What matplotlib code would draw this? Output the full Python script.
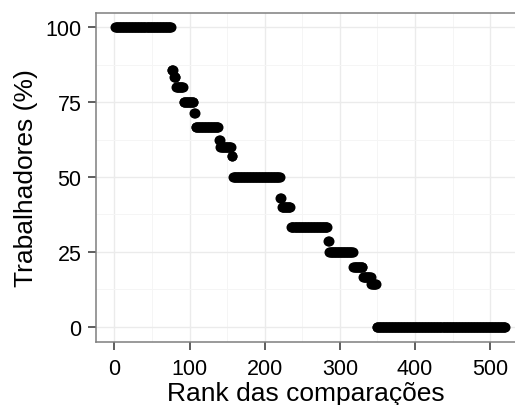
import numpy as np
import matplotlib
matplotlib.use("Agg")
import matplotlib.pyplot as plt
from matplotlib.ticker import MultipleLocator

# Percent of workers at each step (run-length data)
step_values = [100, 85.7, 83.3, 80, 75, 71.4, 66.7, 62.5, 60, 57.1,
               50, 42.9, 40, 33.3, 28.6, 25, 20, 16.7, 14.3, 0]
step_counts = [75, 3, 3, 10, 14, 2, 31, 2, 15, 2,
               63, 2, 12, 49, 2, 32, 13, 11, 7, 172]

x_ticks = [0, 100, 200, 300, 400, 500]
y_ticks = [0, 25, 50, 75, 100]

y = np.repeat(step_values, step_counts)
rank = np.arange(1, len(y) + 1)

plt.rcParams['font.family'] = ['Liberation Sans', 'DejaVu Sans']

fig = plt.figure(figsize=(5.15, 4.06), dpi=100)
W, H = 515, 406
left_px, right_px = 95.7, 515.0
top_px, bottom_px = 13.5, 342.5
ax = fig.add_axes([left_px / W, 1 - bottom_px / H,
                   (right_px - left_px) / W, (bottom_px - top_px) / H])

ax.scatter(rank, y, s=52, color='black', linewidths=0, zorder=3)

# ggplot-style 5% expansion; the panel is cut by the image edge on the right
xmin, xmax = rank.min(), rank.max()
xr = xmax - xmin
x_lo = xmin - 0.05 * xr
full_hi = xmax + 0.05 * xr
px_per_unit = (524.6 - left_px) / (full_hi - x_lo)
ax.set_xlim(x_lo, x_lo + (right_px - left_px) / px_per_unit)
ax.set_ylim(-5, 105)

ax.set_xticks(x_ticks)
ax.set_yticks(y_ticks)
ax.xaxis.set_minor_locator(MultipleLocator(50))
ax.yaxis.set_minor_locator(MultipleLocator(12.5))

ax.grid(which='major', color='#ebebeb', linewidth=1.0, zorder=0)
ax.grid(which='minor', color='#f5f5f5', linewidth=0.7, zorder=0)
ax.set_axisbelow(True)

for sp in ax.spines.values():
    sp.set_color('#7f7f7f')
    sp.set_linewidth(1.1)
ax.spines['right'].set_visible(False)

ax.tick_params(which='major', length=6, width=1.1, color='#333333',
               labelsize=15.5, labelcolor='black')
ax.tick_params(axis='x', which='major', pad=6)
ax.tick_params(axis='y', which='major', pad=4.3)
ax.tick_params(which='minor', length=0)

ax.set_xlabel('Rank das comparações', fontsize=19, labelpad=1)
ax.set_ylabel('Trabalhadores (%)', fontsize=19, labelpad=5)

fig.savefig('out.png', dpi=100)
